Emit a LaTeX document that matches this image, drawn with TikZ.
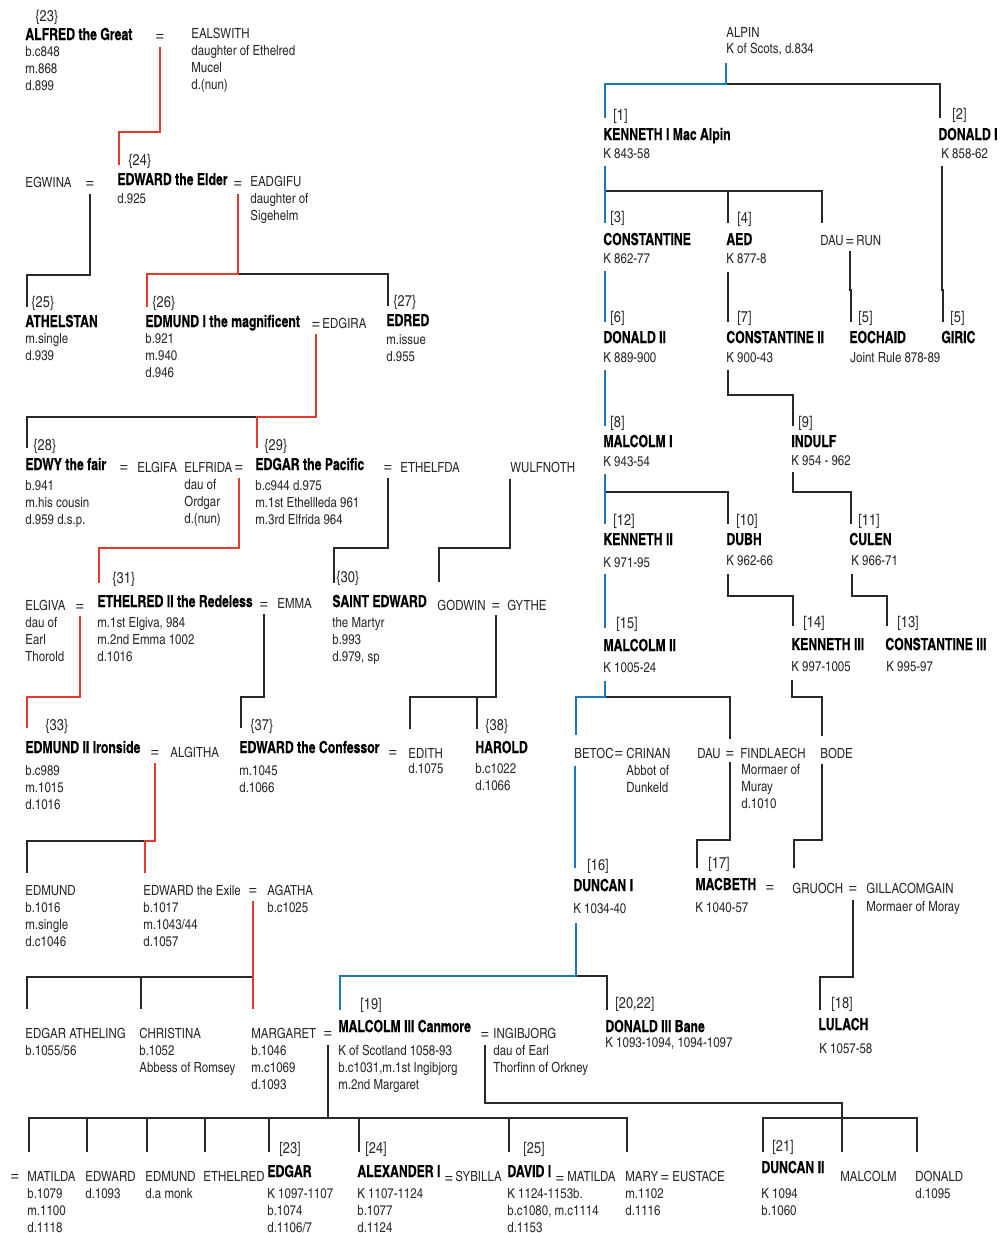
\documentclass[tikz,border=0pt]{standalone}
\usepackage{fontspec}
\setmainfont{texgyreheroscn}[Extension=.otf, UprightFont=*-regular, BoldFont=*-bold, BoldFeatures={FakeStretch=0.9, FakeBold=0.3}]
\definecolor{royalred}{RGB}{230,57,46}
\definecolor{royalblue}{RGB}{27,120,190}
\definecolor{ink}{RGB}{40,40,40}
\tikzset{
  nm/.style={font=\fontsize{8.3}{9}\selectfont\bfseries, inner sep=0pt, anchor=base west, text=black},
  rn/.style={font=\fontsize{7}{8.4}\selectfont, inner sep=0pt, anchor=base west, text=ink},
  det/.style={font=\fontsize{7}{8.4}\selectfont, inner sep=0pt, anchor=north west, align=left, text=ink},
  num/.style={font=\fontsize{7.8}{8}\selectfont, inner sep=0pt, anchor=base west, text=ink},
  eq/.style={font=\fontsize{9.5}{10}\selectfont, inner sep=0pt, anchor=base, yshift=-0.8pt, text=ink},
  kinline/.style={line width=1.2pt, draw=ink},
  redline/.style={kinline, draw=royalred},
  blueline/.style={kinline, draw=royalblue}
}
\NewDocumentCommand{\kin}{O{kinline} m m m O{23}}{%
  \draw[#1] (#2) coordinate (kin-s) -- (kin-s |- 0,#3) -| ([shift={(2,-#5)}]#4.base west);}
\begin{document}
\begin{tikzpicture}[x=0.5pt, y=-0.5pt]
  \useasboundingbox (0,0) rectangle (1001,1233);

  \node[num] (n23) at (35,21) {\{23\}};
  \node[nm] (alfred) at (25,40) {ALFRED the Great};
  \node[det] (alfred-d) at (25,46) {b.c848\\m.868\\d.899};
  \node[eq] (e-alfred) at (160,40) {=};
  \node[rn] (ealswith) at (191,38) {EALSWITH};
  \node[det] (ealswith-d) at (191,45) {daughter of Ethelred\\Mucel\\d.(nun)};

  \node[rn] (egwina) at (25,187) {EGWINA};
  \node[eq] (e-egwina) at (90,187) {=};
  \node[num] (n24) at (128,165) {\{24\}};
  \node[nm] (edward) at (117,185) {EDWARD the Elder};
  \node[det] (edward-d) at (117,193) {d.925};
  \node[eq] (e-edward) at (238,187) {=};
  \node[rn] (eadgifu) at (250,186) {EADGIFU};
  \node[det] (eadgifu-d) at (250,193) {daughter of\\Sigehelm};

  \node[num] (n25) at (31,307) {\{25\}};
  \node[nm] (athelstan) at (25,327) {ATHELSTAN};
  \node[det] (athelstan-d) at (25,333) {m.single\\d.939};
  \node[num] (n26) at (152,307) {\{26\}};
  \node[nm] (edmund) at (145,327) {EDMUND I the magnificent};
  \node[det] (edmund-d) at (145,333) {b.921\\m.940\\d.946};
  \node[eq] (e-edmund) at (316,328) {=};
  \node[rn] (edgira) at (322,328) {EDGIRA};
  \node[num] (n27) at (393,306) {\{27\}};
  \node[nm] (edred) at (386,326) {EDRED};
  \node[det] (edred-d) at (386,334) {m.issue\\d.955};

  \node[num] (n28) at (33,450) {\{28\}};
  \node[nm] (edwy) at (25,470) {EDWY the fair};
  \node[det] (edwy-d) at (25,480) {b.941\\m.his cousin\\d.959 d.s.p.};
  \node[eq] (e-edwy) at (124,471) {=};
  \node[rn] (elgifa) at (137,472) {ELGIFA};
  \node[rn] (elfrida) at (184,472) {ELFRIDA};
  \node[eq] (e-elfrida) at (239,471) {=};
  \node[det] (elfrida-d) at (184,479) {dau of\\Ordgar\\d.(nun)};
  \node[num] (n29) at (264,450) {\{29\}};
  \node[nm] (edgar) at (255,470) {EDGAR the Pacific};
  \node[det] (edgar-d) at (255,480) {b.c944 d.975\\m.1st Ethellleda 961\\m.3rd Elfrida 964};
  \node[eq] (e-edgar) at (388,471) {=};
  \node[rn] (ethelfda) at (400,472) {ETHELFDA};
  \node[rn] (wulfnoth) at (510,472) {WULFNOTH};

  \node[rn] (elgiva) at (25,610) {ELGIVA};
  \node[eq] (e-elgiva) at (80,610) {=};
  \node[det] (elgiva-d) at (25,617) {dau of\\Earl\\Thorold};
  \node[num] (n31) at (112,583) {\{31\}};
  \node[nm] (ethelred) at (97,607) {ETHELRED II the Redeless};
  \node[det] (ethelred-d) at (97,617) {m.1st Elgiva, 984\\m.2nd Emma 1002\\d.1016};
  \node[eq] (e-ethelred) at (264,608) {=};
  \node[rn] (emma) at (277,608) {EMMA};
  \node[num] (n30) at (336,582) {\{30\}};
  \node[nm] (saintedward) at (332,607) {SAINT EDWARD};
  \node[det] (saintedward-d) at (332,617) {the Martyr\\b.993\\d.979, sp};
  \node[rn] (godwin) at (437,610) {GODWIN};
  \node[eq] (e-godwin) at (496,609) {=};
  \node[rn] (gythe) at (507,610) {GYTHE};

  \node[num] (n33) at (45,730) {\{33\}};
  \node[nm] (edmundii) at (25,753) {EDMUND II Ironside};
  \node[det] (edmundii-d) at (25,765) {b.c989\\m.1015\\d.1016};
  \node[eq] (e-edmundii) at (155,756) {=};
  \node[rn] (algitha) at (170,757) {ALGITHA};
  \node[num] (n37) at (250,730) {\{37\}};
  \node[nm] (confessor) at (239,753) {EDWARD the Confessor};
  \node[det] (confessor-d) at (239,765) {m.1045\\d.1066};
  \node[eq] (e-confessor) at (393,756) {=};
  \node[rn] (edith) at (408,758) {EDITH};
  \node[det] (edith-d) at (408,763) {d.1075};
  \node[num] (n38) at (485,730) {\{38\}};
  \node[nm] (harold) at (475,753) {HAROLD};
  \node[det] (harold-d) at (475,763) {b.c1022\\d.1066};

  \node[rn] (edmundy) at (25,895) {EDMUND};
  \node[det] (edmundy-d) at (25,902) {b.1016\\m.single\\d.c1046};
  \node[rn] (exile) at (143,895) {EDWARD the Exile};
  \node[det] (exile-d) at (143,902) {b.1017\\m.1043/44\\d.1057};
  \node[eq] (e-exile) at (253,894) {=};
  \node[rn] (agatha) at (267,895) {AGATHA};
  \node[det] (agatha-d) at (267,902) {b.c1025};

  \node[rn] (atheling) at (25,1038) {EDGAR ATHELING};
  \node[det] (atheling-d) at (25,1045) {b.1055/56};
  \node[rn] (christina) at (139,1038) {CHRISTINA};
  \node[det] (christina-d) at (139,1045) {b.1052\\Abbess of Romsey};
  \node[rn] (margaret) at (251,1038) {MARGARET};
  \node[det] (margaret-d) at (251,1045) {b.1046\\m.c1069\\d.1093};
  \node[eq] (e-margaret) at (328,1037) {=};

  \node[num] (n19) at (360,1009) {[19]};
  \node[nm] (malcolmiii) at (338,1032) {MALCOLM III Canmore};
  \node[det] (malcolmiii-d) at (338,1045) {K of Scotland 1058-93\\b.c1031,m.1st Ingibjorg\\m.2nd Margaret};
  \node[eq] (e-malcolmiii) at (485,1038) {=};
  \node[rn] (ingibjorg) at (493,1038) {INGIBJORG};
  \node[det] (ingibjorg-d) at (493,1045) {dau of Earl\\Thorfinn of Orkney};
  \node[num] (n2022) at (615,1008) {[20,22]};
  \node[nm] (donaldiii) at (605,1032) {DONALD III Bane};
  \node[det] (donaldiii-d) at (605,1037) {K 1093-1094, 1094-1097};

  \node[eq] (e-matilda) at (15,1180) {=};
  \node[rn] (matilda) at (27,1181) {MATILDA};
  \node[det] (matilda-d) at (27,1188) {b.1079\\m.1100\\d.1118};
  \node[rn] (edwardy) at (85,1181) {EDWARD};
  \node[det] (edwardy-d) at (85,1188) {d.1093};
  \node[rn] (edmundz) at (145,1181) {EDMUND};
  \node[det] (edmundz-d) at (145,1188) {d.a monk};
  \node[rn] (ethelredz) at (203,1181) {ETHELRED};
  \node[num] (n23s) at (279,1153) {[23]};
  \node[nm] (edgarz) at (267,1177) {EDGAR};
  \node[det] (edgarz-d) at (267,1188) {K 1097-1107\\b.1074\\d.1106/7};
  \node[num] (n24s) at (365,1153) {[24]};
  \node[nm] (alexander) at (357,1177) {ALEXANDER I};
  \node[eq] (e-alexander) at (449,1182) {=};
  \node[rn] (sybilla) at (455,1181) {SYBILLA};
  \node[det] (alexander-d) at (357,1188) {K 1107-1124\\b.1077\\d.1124};
  \node[num] (n25s) at (523,1153) {[25]};
  \node[nm] (david) at (507,1177) {DAVID I};
  \node[eq] (e-david) at (560,1182) {=};
  \node[rn] (matildaz) at (567,1181) {MATILDA};
  \node[det] (david-d) at (507,1188) {K 1124-1153b.\\b.c1080, m.c1114\\d.1153};
  \node[rn] (mary) at (625,1181) {MARY};
  \node[eq] (e-mary) at (665,1181) {=};
  \node[rn] (eustace) at (672,1181) {EUSTACE};
  \node[det] (mary-d) at (625,1188) {m.1102\\d.1116};
  \node[num] (n21) at (772,1151) {[21]};
  \node[nm] (duncanii) at (761,1173) {DUNCAN II};
  \node[det] (duncanii-d) at (761,1188) {K 1094\\b.1060};
  \node[rn] (malcolmz) at (840,1181) {MALCOLM};
  \node[rn] (donaldz) at (915,1181) {DONALD};
  \node[det] (donaldz-d) at (915,1188) {d.1095};

  \node[rn] (alpin) at (726,37) {ALPIN};
  \node[det] (alpin-d) at (726,43) {K of Scots, d.834};
  \node[num] (n1) at (613,120) {[1]};
  \node[nm] (kenneth) at (603,140) {KENNETH I Mac Alpin};
  \node[det] (kenneth-d) at (603,148) {K 843-58};
  \node[num] (n2) at (952,119) {[2]};
  \node[nm] (donaldi) at (938,140) {DONALD I};
  \node[det] (donaldi-d) at (941,148) {K 858-62};

  \node[num] (n3) at (610,222) {[3]};
  \node[nm] (constantine) at (603,245) {CONSTANTINE};
  \node[det] (constantine-d) at (603,253) {K 862-77};
  \node[num] (n4) at (737,223) {[4]};
  \node[nm] (aed) at (726,245) {AED};
  \node[det] (aed-d) at (726,253) {K 877-8};
  \node[rn] (dau) at (820,245) {DAU};
  \node[eq] (e-dau) at (850,245) {=};
  \node[rn] (run) at (856,245) {RUN};

  \node[num] (n6) at (610,322) {[6]};
  \node[nm] (donaldii) at (603,343) {DONALD II};
  \node[det] (donaldii-d) at (603,352) {K 889-900};
  \node[num] (n7) at (737,322) {[7]};
  \node[nm] (constantineii) at (726,343) {CONSTANTINE II};
  \node[det] (constantineii-d) at (726,352) {K 900-43};
  \node[num] (n5a) at (858,322) {[5]};
  \node[nm] (eochaid) at (849,343) {EOCHAID};
  \node[det] (eochaid-d) at (850,352) {Joint Rule 878-89};
  \node[num] (n5b) at (950,322) {[5]};
  \node[nm] (giric) at (941,343) {GIRIC};

  \node[num] (n8) at (610,427) {[8]};
  \node[nm] (malcolmi) at (603,447) {MALCOLM I};
  \node[det] (malcolmi-d) at (603,456) {K 943-54};
  \node[num] (n9) at (798,427) {[9]};
  \node[nm] (indulf) at (791,447) {INDULF};
  \node[det] (indulf-d) at (791,455) {K 954 - 962};

  \node[num] (n12) at (613,525) {[12]};
  \node[nm] (kennethii) at (603,545) {KENNETH II};
  \node[det] (kennethii-d) at (603,557) {K 971-95};
  \node[num] (n10) at (736,525) {[10]};
  \node[nm] (dubh) at (726,545) {DUBH};
  \node[det] (dubh-d) at (726,555) {K 962-66};
  \node[num] (n11) at (858,525) {[11]};
  \node[nm] (culen) at (849,545) {CULEN};
  \node[det] (culen-d) at (851,555) {K 966-71};

  \node[num] (n15) at (616,628) {[15]};
  \node[nm] (malcolmii) at (603,651) {MALCOLM II};
  \node[det] (malcolmii-d) at (603,662) {K 1005-24};
  \node[num] (n14) at (803,627) {[14]};
  \node[nm] (kennethiii) at (791,650) {KENNETH III};
  \node[det] (kennethiii-d) at (791,661) {K 997-1005};
  \node[num] (n13) at (897,627) {[13]};
  \node[nm] (constantineiii) at (885,650) {CONSTANTINE III};
  \node[det] (constantineiii-d) at (886,661) {K 995-97};

  \node[rn] (betoc) at (574,758) {BETOC};
  \node[eq] (e-betoc) at (619,757) {=};
  \node[rn] (crinan) at (626,758) {CRINAN};
  \node[det] (crinan-d) at (626,765) {Abbot of\\Dunkeld};
  \node[rn] (daub) at (697,758) {DAU};
  \node[eq] (e-daub) at (730,757) {=};
  \node[rn] (findlaech) at (740,758) {FINDLAECH};
  \node[det] (findlaech-d) at (741,764) {Mormaer of\\Muray\\d.1010};
  \node[rn] (bode) at (820,758) {BODE};

  \node[num] (n16) at (587,870) {[16]};
  \node[nm] (duncani) at (573,891) {DUNCAN I};
  \node[det] (duncani-d) at (573,903) {K 1034-40};
  \node[num] (n17) at (708,868) {[17]};
  \node[nm] (macbeth) at (695,890) {MACBETH};
  \node[det] (macbeth-d) at (695,902) {K 1040-57};
  \node[eq] (e-macbeth) at (770,891) {=};
  \node[rn] (gruoch) at (792,893) {GRUOCH};
  \node[eq] (e-gruoch) at (853,892) {=};
  \node[rn] (gillacomgain) at (866,893) {GILLACOMGAIN};
  \node[det] (gillacomgain-d) at (866,901) {Mormaer of Moray};

  \node[num] (n18) at (831,1008) {[18]};
  \node[nm] (lulach) at (818,1030) {LULACH};
  \node[det] (lulach-d) at (819,1043) {K 1057-58};

  \kin[redline]{[shift={(0,5)}]e-alfred.south}{132}{edward}[20]
  \kin{[shift={(0,5)}]e-egwina.south}{275}{athelstan}[20]
  \kin{[shift={(0,5)}]e-edward.south}{274}{edred}[20]
  \kin[redline]{[shift={(0,5)}]e-edward.south}{274}{edmund}[20]
  \kin{[shift={(0,4)}]e-edmund.south}{417}{edwy}[22]
  \kin[redline]{[shift={(0,4)}]e-edmund.south}{417}{edgar}[22]
  \kin[redline]{[shift={(0,5)}]e-elfrida.south}{548}{ethelred}[24]
  \kin{[shift={(0,5)}]e-edgar.south}{548}{saintedward}[24]
  \kin{[shift={(0,6)}]wulfnoth.south west}{548}{godwin}[28]
  \kin[redline]{[shift={(0,4)}]e-elgiva.south}{697}{edmundii}[25]
  \kin{[shift={(0,4)}]e-ethelred.south}{697}{confessor}[25]
  \kin{[shift={(0,4)}]e-godwin.south}{697}{edith}[29]
  \kin{[shift={(0,4)}]e-godwin.south}{697}{harold}[24]
  \kin{[shift={(0,5)}]e-edmundii.south}{841}{edmundy}[22]
  \kin[redline]{[shift={(0,5)}]e-edmundii.south}{841}{exile}[22]
  \kin{[shift={(0,5)}]e-exile.south}{977}{atheling}[29]
  \kin{[shift={(0,5)}]e-exile.south}{977}{christina}[29]
  \kin[redline]{[shift={(0,5)}]e-exile.south}{977}{margaret}[29]
  \foreach \child/\rise in {matilda/29, edwardy/29, edmundz/29, ethelredz/29, edgarz/25, alexander/25, david/25, mary/29}
    \kin{[shift={(0,6)}]e-margaret.south}{1118}{\child}[\rise];
  \kin{[shift={(0,5)}]e-malcolmiii.south}{1103}{malcolmz}[29]
  \kin{[shift={(2,-21)}]duncanii.base west}{1118}{donaldz}[29]

  \kin{[shift={(0,7)}]alpin-d.south west}{84}{donaldi}[22]
  \kin[blueline]{[shift={(0,7)}]alpin-d.south west}{84}{kenneth}[22]
  \kin{[shift={(2,7)}]kenneth-d.south west}{191}{aed}[22]
  \kin{[shift={(2,7)}]kenneth-d.south west}{191}{dau}[22]
  \kin[blueline]{[shift={(2,7)}]kenneth-d.south west}{191}{constantine}[22]
  \kin[blueline]{[shift={(2,7)}]constantine-d.south west}{290}{donaldii}[21]
  \kin{[shift={(2,8)}]aed-d.south west}{290}{constantineii}[21]
  \kin{[shift={(0,4)}]e-dau.south}{290}{eochaid}[21]
  \kin{[shift={(1,7)}]donaldi-d.south west}{290}{giric}[21]
  \kin[blueline]{[shift={(2,7)}]donaldii-d.south west}{400}{malcolmi}[21]
  \kin{[shift={(2,7)}]constantineii-d.south west}{395}{indulf}[21]
  \kin{[shift={(2,7)}]malcolmi-d.south west}{492}{dubh}[21]
  \kin[blueline]{[shift={(2,7)}]malcolmi-d.south west}{492}{kennethii}[21]
  \kin{[shift={(2,6)}]indulf-d.south west}{492}{culen}[21]
  \kin[blueline]{[shift={(2,6)}]kennethii-d.south west}{600}{malcolmii}[23]
  \kin{[shift={(2,8)}]dubh-d.south west}{596}{kennethiii}[24]
  \kin{[shift={(1,8)}]culen-d.south west}{596}{constantineiii}[24]
  \draw[kinline] ([shift={(2,8)}]malcolmii-d.south west) coordinate (kin-s) -- (kin-s |- 0,697) -| ([shift={(0,-12)}]e-daub.north);
  \kin[blueline]{[shift={(2,8)}]malcolmii-d.south west}{697}{betoc}[23]
  \kin{[shift={(1,8)}]kennethiii-d.south west}{697}{bode}[22]
  \kin[blueline]{[shift={(1,7)}]betoc.south west}{800}{duncani}[23]
  \kin{[shift={(0,3)}]e-daub.south}{840}{macbeth}[22]
  \kin{[shift={(2,5)}]bode.south west}{840}{gruoch}[25]
  \kin{[shift={(0,6)}]e-gruoch.south}{977}{lulach}[20]
  \kin{[shift={(3,9)}]duncani-d.south west}{976}{donaldiii}[22]
  \kin[blueline]{[shift={(3,9)}]duncani-d.south west}{976}{malcolmiii}[22]
\end{tikzpicture}
\end{document}
